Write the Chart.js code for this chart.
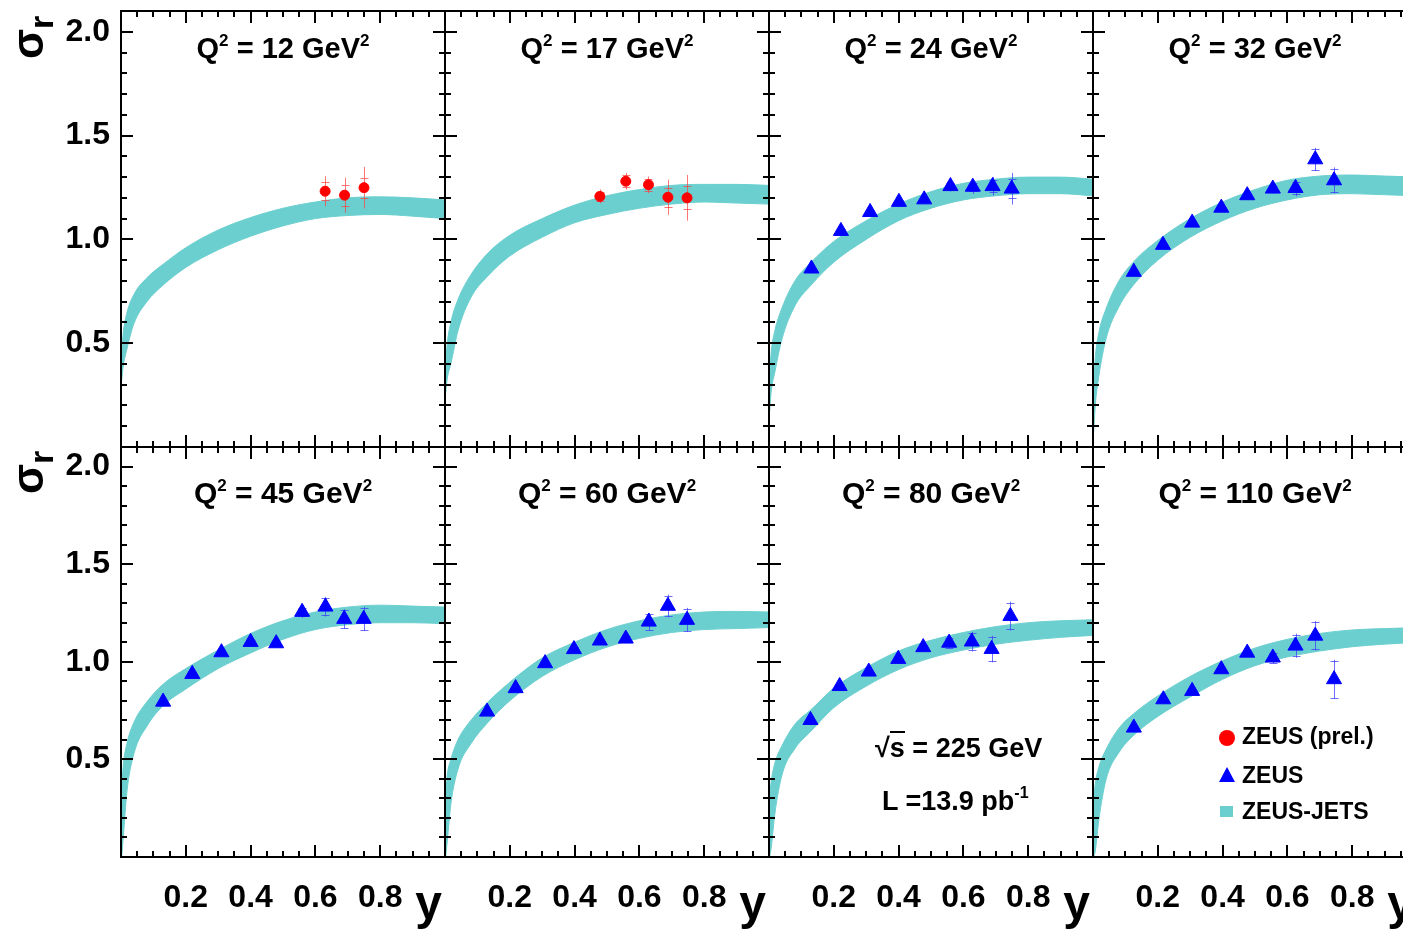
<!DOCTYPE html>
<html><head><meta charset="utf-8">
<script src="https://cdn.jsdelivr.net/npm/chart.js@4.4.1/dist/chart.umd.min.js"></script>
<style>
html,body{margin:0;padding:0;background:#fff;}
#wrap{position:relative;width:1403px;height:933px;overflow:hidden;background:#fff;font-family:"Liberation Sans",Arial,Helvetica,sans-serif;font-weight:bold;color:#000;}
canvas{position:absolute;}
.t{position:absolute;line-height:1;white-space:nowrap;}
.sup{position:relative;}
</style></head><body><div id="wrap"></div>
<script>
// ---------- data ----------
const q2Values = ['12', '17', '24', '32', '45', '60', '80', '110'];
const xTickLabels = ['0.2', '0.4', '0.6', '0.8'];
const yTickLabels = ['0.5', '1.0', '1.5', '2.0'];

// ZEUS-JETS band, sampled in y
const bandX = [0.002, 0.007, 0.018, 0.04, 0.08, 0.13, 0.2, 0.3, 0.4, 0.5, 0.6, 0.7, 0.8, 0.9, 1.0];
const bandUp12 = [0.45, 0.55, 0.645, 0.735, 0.815, 0.88, 0.96, 1.045, 1.105, 1.15, 1.18, 1.20, 1.205, 1.20, 1.19];
const bandLo12 = [0.32, 0.39, 0.47, 0.595, 0.70, 0.78, 0.865, 0.95, 1.015, 1.065, 1.10, 1.115, 1.12, 1.112, 1.10];
const bandUp17 = [0.40, 0.50, 0.60, 0.71, 0.83, 0.93, 1.02, 1.10, 1.165, 1.21, 1.24, 1.26, 1.265, 1.265, 1.26];
const bandLo17 = [0.26, 0.33, 0.40, 0.56, 0.72, 0.82, 0.92, 1.01, 1.08, 1.12, 1.15, 1.17, 1.18, 1.175, 1.17];
const bandUp24 = [0.35, 0.46, 0.56, 0.67, 0.80, 0.89, 0.99, 1.09, 1.17, 1.23, 1.27, 1.29, 1.30, 1.30, 1.29];
const bandLo24 = [0.17, 0.27, 0.36, 0.52, 0.68, 0.78, 0.89, 1.00, 1.09, 1.15, 1.19, 1.21, 1.22, 1.22, 1.21];
const bandUp32 = [0.30, 0.43, 0.55, 0.665, 0.80, 0.90, 0.995, 1.10, 1.18, 1.24, 1.285, 1.305, 1.31, 1.305, 1.30];
const bandLo32 = [0.07, 0.20, 0.34, 0.52, 0.675, 0.79, 0.90, 1.01, 1.09, 1.15, 1.19, 1.215, 1.22, 1.215, 1.21];
const bandUp45 = [0.35, 0.47, 0.58, 0.69, 0.795, 0.885, 0.965, 1.06, 1.145, 1.21, 1.255, 1.28, 1.29, 1.285, 1.28];
const bandLo45 = [0.0, 0.10, 0.33, 0.53, 0.67, 0.775, 0.86, 0.965, 1.045, 1.115, 1.165, 1.19, 1.20, 1.20, 1.195];
const bandUp60 = [0.32, 0.42, 0.50, 0.60, 0.70, 0.79, 0.895, 1.02, 1.10, 1.165, 1.21, 1.24, 1.255, 1.258, 1.255];
const bandLo60 = [0.0, 0.08, 0.27, 0.45, 0.58, 0.685, 0.80, 0.925, 1.01, 1.075, 1.12, 1.15, 1.165, 1.17, 1.175];
const bandUp80 = [0.31, 0.39, 0.48, 0.57, 0.68, 0.755, 0.865, 0.97, 1.055, 1.11, 1.15, 1.18, 1.20, 1.21, 1.215];
const bandLo80 = [0.0, 0.05, 0.22, 0.42, 0.555, 0.645, 0.765, 0.875, 0.96, 1.02, 1.06, 1.09, 1.11, 1.125, 1.135];
const bandUp110 = [0.29, 0.376, 0.46, 0.55, 0.66, 0.74, 0.825, 0.925, 1.005, 1.07, 1.115, 1.145, 1.163, 1.17, 1.175];
const bandLo110 = [0.0, 0.03, 0.19, 0.395, 0.535, 0.63, 0.72, 0.82, 0.91, 0.98, 1.025, 1.055, 1.077, 1.09, 1.10];

// ZEUS (prel.) points
const ptX12 = [0.63, 0.69, 0.75];
const ptY12 = [1.232, 1.213, 1.249];
const stat12 = [0.042, 0.05, 0.048];
const tot12 = [0.072, 0.084, 0.10];
const ptX17 = [0.478, 0.558, 0.628, 0.688, 0.747];
const ptY17 = [1.207, 1.280, 1.263, 1.203, 1.200];
const stat17 = [0.02, 0.03, 0.03, 0.045, 0.055];
const tot17 = [0.034, 0.04, 0.04, 0.085, 0.11];
// ZEUS points
const ptX24 = [0.131, 0.222, 0.312, 0.401, 0.479, 0.56, 0.629, 0.69, 0.749];
const ptY24 = [0.859, 1.04, 1.131, 1.18, 1.192, 1.256, 1.253, 1.256, 1.244];
const stat24 = [0.01, 0.01, 0.01, 0.01, 0.01, 0.015, 0.02, 0.03, 0.045];
const tot24 = [0.02, 0.02, 0.02, 0.02, 0.02, 0.025, 0.035, 0.045, 0.076];
const ptX32 = [0.126, 0.216, 0.306, 0.396, 0.476, 0.555, 0.625, 0.686, 0.744];
const ptY32 = [0.843, 0.973, 1.08, 1.152, 1.212, 1.244, 1.247, 1.385, 1.284];
const stat32 = [0.01, 0.01, 0.01, 0.01, 0.01, 0.015, 0.03, 0.05, 0.055];
const tot32 = [0.02, 0.02, 0.02, 0.02, 0.02, 0.025, 0.04, 0.056, 0.0625];
const ptX45 = [0.130, 0.220, 0.310, 0.400, 0.479, 0.559, 0.631, 0.689, 0.749];
const ptY45 = [0.795, 0.937, 1.048, 1.101, 1.094, 1.255, 1.282, 1.219, 1.219];
const stat45 = [0.01, 0.01, 0.01, 0.01, 0.01, 0.02, 0.045, 0.045, 0.055];
const tot45 = [0.02, 0.02, 0.02, 0.02, 0.02, 0.03, 0.05, 0.05, 0.062];
const ptX60 = [0.130, 0.218, 0.309, 0.398, 0.478, 0.558, 0.629, 0.688, 0.747];
const ptY60 = [0.744, 0.864, 0.992, 1.064, 1.108, 1.118, 1.205, 1.286, 1.214];
const stat60 = [0.01, 0.01, 0.01, 0.01, 0.01, 0.015, 0.04, 0.05, 0.055];
const tot60 = [0.02, 0.02, 0.02, 0.02, 0.02, 0.02, 0.045, 0.058, 0.062];
const ptX80 = [0.128, 0.218, 0.308, 0.399, 0.476, 0.556, 0.626, 0.687, 0.745];
const ptY80 = [0.701, 0.875, 0.949, 1.014, 1.074, 1.097, 1.103, 1.065, 1.234];
const stat80 = [0.01, 0.01, 0.01, 0.01, 0.01, 0.025, 0.045, 0.06, 0.065];
const tot80 = [0.02, 0.02, 0.02, 0.02, 0.02, 0.03, 0.05, 0.068, 0.074];
const ptX110 = [0.126, 0.217, 0.306, 0.396, 0.476, 0.555, 0.625, 0.686, 0.744];
const ptY110 = [0.662, 0.807, 0.850, 0.961, 1.046, 1.021, 1.082, 1.133, 0.910];
const stat110 = [0.01, 0.01, 0.01, 0.01, 0.01, 0.025, 0.055, 0.07, 0.095];
const tot110 = [0.02, 0.02, 0.02, 0.02, 0.02, 0.03, 0.062, 0.075, 0.10];

// ---------- styles ----------
const TEAL = 'rgb(108, 207, 207)';
const RED = '#ff0000';
const BLUE = '#0000ff';
Chart.defaults.font.family = '"Liberation Sans", Arial, Helvetica, sans-serif';

const panels = [
  {q2: q2Values[0], up: bandUp12, lo: bandLo12, px: ptX12, py: ptY12, stat: stat12, tot: tot12, prel: true},
  {q2: q2Values[1], up: bandUp17, lo: bandLo17, px: ptX17, py: ptY17, stat: stat17, tot: tot17, prel: true},
  {q2: q2Values[2], up: bandUp24, lo: bandLo24, px: ptX24, py: ptY24, stat: stat24, tot: tot24, prel: false},
  {q2: q2Values[3], up: bandUp32, lo: bandLo32, px: ptX32, py: ptY32, stat: stat32, tot: tot32, prel: false},
  {q2: q2Values[4], up: bandUp45, lo: bandLo45, px: ptX45, py: ptY45, stat: stat45, tot: tot45, prel: false},
  {q2: q2Values[5], up: bandUp60, lo: bandLo60, px: ptX60, py: ptY60, stat: stat60, tot: tot60, prel: false},
  {q2: q2Values[6], up: bandUp80, lo: bandLo80, px: ptX80, py: ptY80, stat: stat80, tot: tot80, prel: false},
  {q2: q2Values[7], up: bandUp110, lo: bandLo110, px: ptX110, py: ptY110, stat: stat110, tot: tot110, prel: false}
];

// ---------- plugins ----------
const errorBars = {
  id: 'errorBars',
  beforeDatasetDraw(chart, args) {
    const ds = chart.data.datasets[args.index];
    if (!ds.errTot) return;
    const {ctx, scales: {x, y}} = chart;
    ctx.save();
    ctx.strokeStyle = ds.errColor;
    ctx.lineWidth = 1;
    ds.data.forEach((p, i) => {
      const px = Math.round(x.getPixelForValue(p.x)) + 0.5;
      const t1 = y.getPixelForValue(p.y + ds.errTot[i]);
      const t2 = y.getPixelForValue(p.y - ds.errTot[i]);
      const s1 = Math.round(y.getPixelForValue(p.y + ds.errStat[i])) + 0.5;
      const s2 = Math.round(y.getPixelForValue(p.y - ds.errStat[i])) + 0.5;
      ctx.beginPath();
      ctx.moveTo(px, t1); ctx.lineTo(px, t2);
      ctx.moveTo(px - 4, s1); ctx.lineTo(px + 4, s1);
      ctx.moveTo(px - 4, s2); ctx.lineTo(px + 4, s2);
      ctx.stroke();
    });
    ctx.restore();
  }
};

const frame = {
  id: 'frame',
  afterDraw(chart) {
    const {ctx, chartArea: a, scales: {x, y}} = chart;
    ctx.save();
    ctx.strokeStyle = '#000';
    ctx.lineWidth = 2;
    ctx.beginPath();
    for (let k = 0; k <= 20; k++) {
      const px = Math.round(x.getPixelForValue(k * 0.05));
      const len = k % 4 === 0 ? 12 : 6;
      ctx.moveTo(px, a.bottom); ctx.lineTo(px, a.bottom - len);
      ctx.moveTo(px, a.top); ctx.lineTo(px, a.top + len);
    }
    for (let k = 0; k <= 21; k++) {
      const py = Math.round(y.getPixelForValue(k * 0.1));
      const len = k % 5 === 0 ? 12 : 6;
      ctx.moveTo(a.left, py); ctx.lineTo(a.left + len, py);
      ctx.moveTo(a.right, py); ctx.lineTo(a.right - len, py);
    }
    ctx.stroke();
    ctx.strokeRect(a.left, a.top, a.right - a.left, a.bottom - a.top);
    ctx.restore();
  }
};

function zeroPad(s) {
  s.paddingLeft = 0; s.paddingRight = 0; s.paddingTop = 0; s.paddingBottom = 0;
}

// ---------- build ----------
const wrap = document.getElementById('wrap');
function addText(html, style) {
  const d = document.createElement('div');
  d.className = 't';
  d.innerHTML = html;
  Object.assign(d.style, style);
  wrap.appendChild(d);
  return d;
}

panels.forEach((p, i) => {
  const r = Math.floor(i / 4), c = i % 4;
  const W = 324;
  const L = 121 + W * c;
  const T = r === 0 ? 11 : 447;
  const H = r === 0 ? 436 : 410;
  const padL = c === 0 ? L : 2;
  const padT = r === 0 ? T : 2;
  const padR = 2;
  const padB = r === 1 ? 933 - (T + H) : 2;
  const cw = padL + W + padR, ch = padT + H + padB;
  const cv = document.createElement('canvas');
  cv.width = cw; cv.height = ch;
  cv.style.left = (L - padL) + 'px';
  cv.style.top = (T - padT) + 'px';
  cv.style.width = cw + 'px';
  cv.style.height = ch + 'px';
  wrap.appendChild(cv);

  const upper = bandX.map((x, k) => ({x, y: p.up[k]}));
  const lower = bandX.map((x, k) => ({x, y: p.lo[k]}));
  const pts = p.px.map((x, k) => ({x, y: p.py[k]}));

  new Chart(cv, {
    type: 'scatter',
    data: {
      datasets: [
        {
          label: p.prel ? 'ZEUS (prel.)' : 'ZEUS',
          data: pts,
          showLine: false,
          pointStyle: p.prel ? 'circle' : 'triangle',
          pointRadius: p.prel ? 5 : 8.7,
          backgroundColor: p.prel ? RED : BLUE,
          borderColor: p.prel ? RED : BLUE,
          borderWidth: 1,
          errStat: p.stat,
          errTot: p.tot,
          errColor: p.prel ? 'rgba(255,60,60,0.7)' : 'rgba(60,60,255,0.75)'
        },
        {
          label: 'ZEUS-JETS',
          data: upper,
          showLine: true,
          fill: '+1',
          backgroundColor: TEAL,
          borderColor: TEAL,
          borderWidth: 1,
          pointRadius: 0,
          cubicInterpolationMode: 'monotone'
        },
        {
          label: 'ZEUS-JETS lower',
          data: lower,
          showLine: true,
          fill: false,
          backgroundColor: TEAL,
          borderColor: TEAL,
          borderWidth: 1,
          pointRadius: 0,
          cubicInterpolationMode: 'monotone'
        }
      ]
    },
    options: {
      responsive: false,
      animation: false,
      devicePixelRatio: 1,
      layout: {autoPadding: false, padding: {left: 0, top: padT, right: padR, bottom: 0}},
      plugins: {legend: {display: false}, tooltip: {enabled: false}},
      scales: {
        x: {
          type: 'linear', min: 0, max: 1, offset: false,
          grid: {display: false, drawTicks: false},
          border: {display: false},
          ticks: {
            display: r === 1, stepSize: 0.2, includeBounds: false, autoSkip: false,
            maxRotation: 0, minRotation: 0, padding: 22, color: '#000',
            font: {size: 32, weight: 'bold'},
            callback: v => { const s = Number(v).toFixed(1); return xTickLabels.includes(s) ? s : ''; }
          },
          afterFit: s => { s.height = padB; zeroPad(s); }
        },
        y: {
          type: 'linear', min: 0, max: 2.1, offset: false,
          grid: {display: false, drawTicks: false},
          border: {display: false},
          ticks: {
            display: c === 0, stepSize: 0.5, includeBounds: false, autoSkip: false,
            padding: 11, color: '#000',
            font: {size: 32, weight: 'bold'},
            callback: v => { const s = Number(v).toFixed(1); return yTickLabels.includes(s) ? s : ''; }
          },
          afterFit: s => { s.width = padL; zeroPad(s); }
        }
      }
    },
    plugins: [errorBars, frame]
  });

  // panel title
  const fs = r === 0 ? 29 : 30;
  const baseline = r === 0 ? 58.5 : 503;
  addText(`Q<span class="sup" style="font-size:17px;top:-12px">2</span> = ${p.q2} GeV<span class="sup" style="font-size:17px;top:-12px">2</span>`,
    {left: L + 'px', width: W + 'px', textAlign: 'center', top: (baseline - 0.8465 * fs) + 'px', fontSize: fs + 'px'});

  // x-axis title
  if (r === 1) {
    addText('y', {left: L + 'px', width: (W - 3) + 'px', textAlign: 'right', top: '879px', fontSize: '48px'});
  }
  // y-axis title
  if (c === 0) {
    addText('σ<span class="sup" style="font-size:34px;top:10px">r</span>',
      {left: '6px', top: (r === 0 ? 59 : 494) + 'px', fontSize: '44px', transform: 'rotate(-90deg)', transformOrigin: '0 0'});
  }
});

// annotations in Q2 = 80 panel
addText('√<span style="border-top:2px solid #000;line-height:1">s</span> = 225 GeV', {left: '875px', top: '735.4px', fontSize: '27px'});
addText('L =13.9 pb<span class="sup" style="font-size:16px;top:-12px">-1</span>', {left: '882px', top: '787.8px', fontSize: '27px'});

// legend
const legendMarks = [
  {style: {left: '1219px', top: '730px', width: '16px', height: '16px', borderRadius: '50%', background: RED}},
  {style: {left: '1219px', top: '767px', width: '0', height: '0', borderLeft: '8px solid transparent', borderRight: '8px solid transparent', borderBottom: '15px solid ' + BLUE}},
  {style: {left: '1220px', top: '806px', width: '13px', height: '11px', background: TEAL}}
];
const legendText = ['ZEUS (prel.)', 'ZEUS', 'ZEUS-JETS'];
const legendTop = [725.4, 763.7, 800.4];
legendMarks.forEach((m, k) => {
  const d = document.createElement('div');
  d.style.position = 'absolute';
  Object.assign(d.style, m.style);
  wrap.appendChild(d);
  addText(legendText[k], {left: '1242px', top: legendTop[k] + 'px', fontSize: '23px'});
});
</script></body></html>
